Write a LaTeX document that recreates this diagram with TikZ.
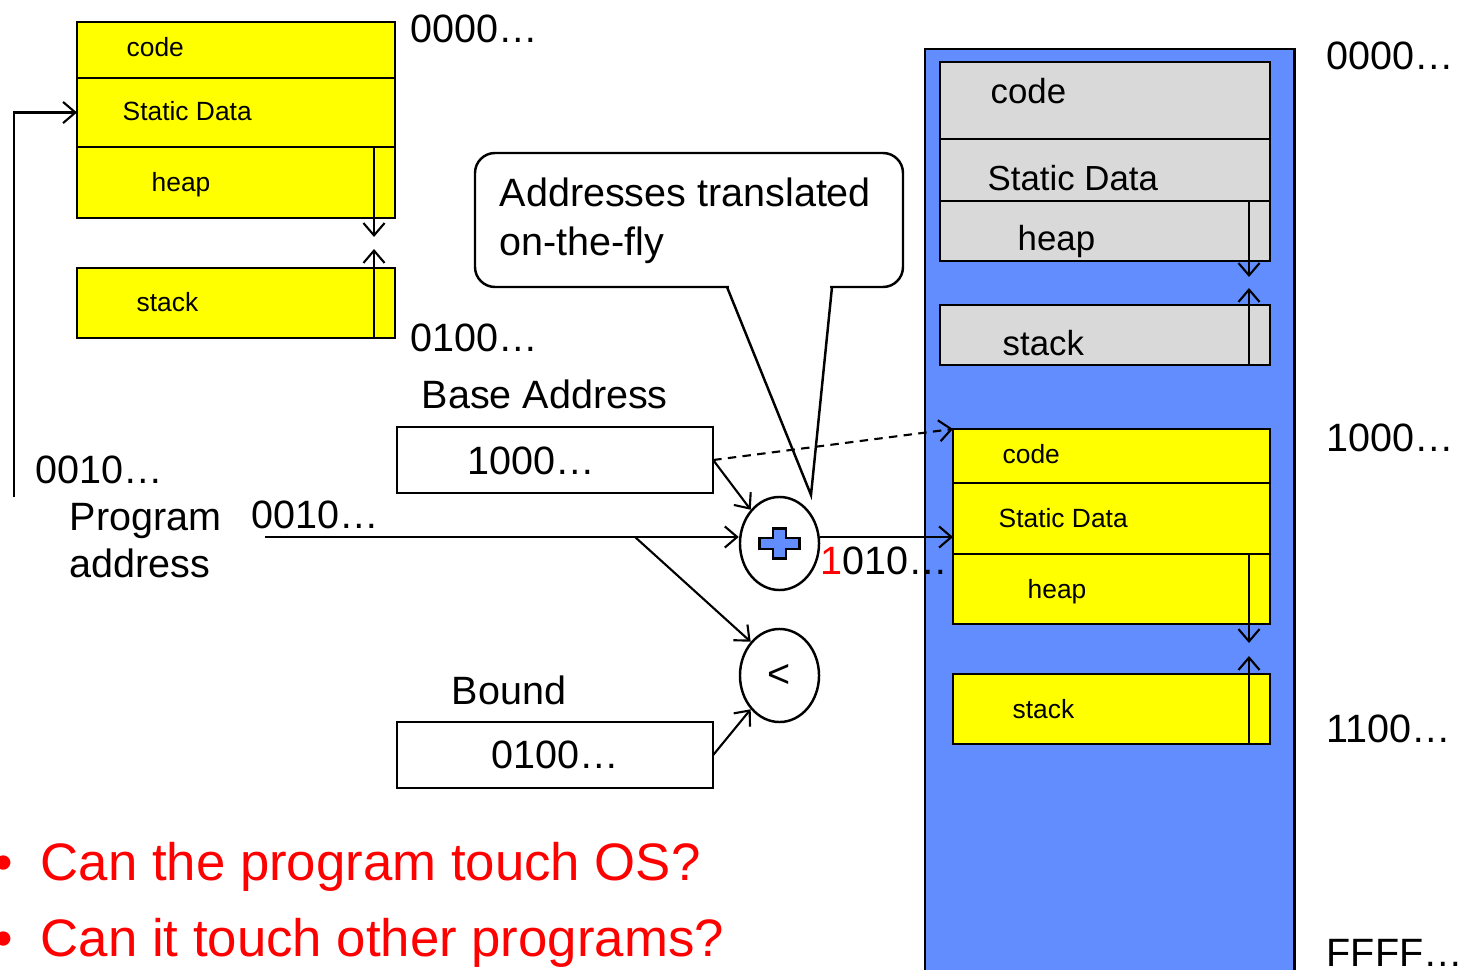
\documentclass[tikz,border=0pt]{standalone}
\usepackage{fontspec}
\setmainfont{Liberation Sans}
\usetikzlibrary{arrows.meta,shapes.geometric}
\definecolor{memblue}{RGB}{97,141,255}
\definecolor{boxgray}{RGB}{217,217,217}
\definecolor{segyellow}{RGB}{255,255,0}
\begin{document}
\begin{tikzpicture}[x=0.01cm,y=-0.01cm,
  seg/.style={draw, line width=0.7pt, anchor=north west, inner sep=0, outer sep=0},
  yseg/.style={seg, fill=segyellow},
  gseg/.style={seg, fill=boxgray},
  wseg/.style={seg, fill=white},
  arr/.style={line width=0.6pt, -{Straight Barb[length=3.5pt,width=6pt]}},
  tS/.style={font=\fontsize{7.5pt}{9pt}\selectfont, inner sep=0, anchor=base west},
  tM/.style={font=\fontsize{9.9pt}{12pt}\selectfont, inner sep=0, anchor=base west},
  tL/.style={font=\fontsize{11.24pt}{13.5pt}\selectfont, inner sep=0, anchor=base west},
  tX/.style={font=\fontsize{15pt}{18pt}\selectfont, inner sep=0, anchor=base west, text=red},
  op/.style={draw, ellipse, line width=0.7pt, minimum width=0.79cm, minimum height=0.93cm, inner sep=0, fill=white, font=\fontsize{11.24pt}{13.5pt}\selectfont}
]
\useasboundingbox (0,0) rectangle (1463,970);

% physical memory column
\node[seg, fill=memblue, line width=0.8pt, minimum width=3.69cm, minimum height=9.5cm] (mem) at (925,49) {};

% left program image
\node[yseg, minimum width=3.18cm, minimum height=0.56cm] (lcode) at (77,22) {};
\node[yseg, minimum width=3.18cm, minimum height=0.69cm] (lstat) at (77,78) {};
\node[yseg, minimum width=3.18cm, minimum height=0.71cm] (lheap) at (77,147) {};
\node[yseg, minimum width=3.18cm, minimum height=0.70cm] (lstack) at (77,268) {};

% gray (OS) segments
\node[gseg, minimum width=3.30cm, minimum height=0.77cm] (gcode) at (940,62) {};
\node[gseg, minimum width=3.30cm, minimum height=0.62cm] (gstat) at (940,139) {};
\node[gseg, minimum width=3.30cm, minimum height=0.60cm] (gheap) at (940,201) {};
\node[gseg, minimum width=3.30cm, minimum height=0.60cm] (gstack) at (940,305) {};

% yellow relocated program
\node[yseg, minimum width=3.17cm, minimum height=0.54cm] (ycode) at (953,429) {};
\node[yseg, minimum width=3.17cm, minimum height=0.71cm] (ystat) at (953,483) {};
\node[yseg, minimum width=3.17cm, minimum height=0.70cm] (yheap) at (953,554) {};
\node[yseg, minimum width=3.17cm, minimum height=0.70cm] (ystack) at (953,674) {};

% registers
\node[wseg, minimum width=3.16cm, minimum height=0.66cm] (base) at (397,427) {};
\node[wseg, minimum width=3.16cm, minimum height=0.66cm] (bound) at (397,722) {};

% callout
\draw[line width=0.7pt, fill=white, rounded corners=0.2cm] (475,153) rectangle (903,287);
\fill[white] (729,283) rectangle (830,291);
\draw[line width=0.7pt] (727,287) -- (811,495) -- (832,287);
\node[tL] (call1) at (499,207) {Addresses translated};
\node[tL] (call2) at (499,255) {on-the-fly};

% operators
\node[op] (plus) at (779.5,543.5) {};
\begin{scope}[shift={(plus.center)}]
\filldraw[fill=memblue, line width=0.6pt] (-6.5,-15) -- (6.5,-15) -- (6.5,-5.5) -- (20,-5.5) -- (20,5.5) -- (6.5,5.5) -- (6.5,15) -- (-6.5,15) -- (-6.5,5.5) -- (-20,5.5) -- (-20,-5.5) -- (-6.5,-5.5) -- cycle;
\end{scope}
\node[op] (lt) at (779.5,675.5) {<};

% growth arrows
\coordinate (lhd) at (374,237);
\coordinate (lsu) at (374,249);
\draw[arr] (lheap.north -| lhd) -- (lhd);
\draw[arr] (lstack.south -| lsu) -- (lsu);
\coordinate (ghd) at (1249,277);
\coordinate (gsu) at (1249,288);
\draw[arr] (gheap.north -| ghd) -- (ghd);
\draw[arr] (gstack.south -| gsu) -- (gsu);
\coordinate (yhd) at (1249,643);
\coordinate (ysu) at (1249,656);
\draw[arr] (yheap.north -| yhd) -- (yhd);
\draw[arr] (ystack.south -| ysu) -- (ysu);

% data path
\coordinate (pv) at (14,497);
\draw[arr] (pv) |- (lstat.west);
\coordinate (pa) at (265,537);
\coordinate (br) at (635,537);
\draw[arr] (pa) -- (pa -| plus.west);
\draw[arr] (br) -- (lt.north west);
\draw[arr] (base.east) -- (plus.north west);
\draw[arr, dash pattern=on 2.4pt off 1.8pt] (base.east) -- (ycode.north west);
\draw[arr] (bound.east) -- (lt.south west);
\draw[arr] (plus.east |- pa) -- (ystat.west |- pa);

% texts: left image
\node[tS] (t1) at (126,57) {code};
\node[tS] (t2) at (122,121) {Static Data};
\node[tS] (t3) at (151,192) {heap};
\node[tS] (t4) at (136,311) {stack};
\node[tL] (t5) at (410,43) {0000…};
\node[tL] (t6) at (410,351) {0100…};

% texts: gray
\node[tM] (g1) at (990,104) {code};
\node[tM] (g2) at (987,191) {Static Data};
\node[tM] (g3) at (1017,251) {heap};
\node[tM] (g4) at (1002,356) {stack};

% texts: yellow right
\node[tS] (y1) at (1002,463) {code};
\node[tS] (y2) at (998,527) {Static Data};
\node[tS] (y3) at (1027,598) {heap};
\node[tS] (y4) at (1012,718) {stack};

% right addresses
\node[tL] (r1) at (1326,70) {0000…};
\node[tL] (r2) at (1326,452) {1000…};
\node[tL] (r3) at (1326,742) {1100…};
\node[tL] (r4) at (1326,966) {FFFF…};

% registers and labels
\node[tL] (ba) at (421,409) {Base Address};
\node[tL] (bav) at (467,474) {1000…};
\node[tL] (bd) at (451,704) {Bound};
\node[tL] (bdv) at (491,768) {0100…};
\node[tL] (pl1) at (35,483) {0010…};
\node[tL] (pl2) at (69,531) {Program};
\node[tL] (pl3) at (69,577) {address};
\node[tL] (pl4) at (251,528) {0010…};
\node[tL] (res) at (820,574) {\textcolor{red}{1}010…};

% questions
\node[tX] (b1) at (-6,880) {•};
\node[tX] (q1) at (40,880) {Can the program touch OS?};
\node[tX] (b2) at (-6,956) {•};
\node[tX] (q2) at (40,956) {Can it touch other programs?};
\end{tikzpicture}
\end{document}
